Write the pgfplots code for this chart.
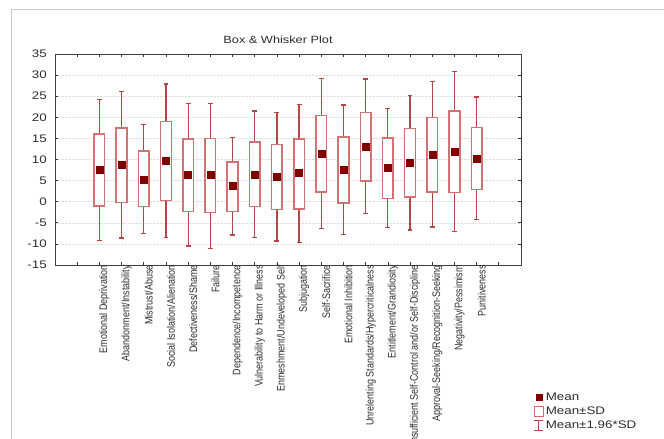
\documentclass[border=0pt]{standalone}
\usepackage{pgfplots}
\pgfplotsset{compat=1.18}
\usepgfplotslibrary{statistics}
\usepackage{fontspec}
\setmainfont{Liberation Sans}
\newfontfamily\widefont[FakeStretch=1.22]{Liberation Sans}
\newfontfamily\narrowfont[FakeStretch=0.82]{Liberation Sans}
\definecolor{boxcol}{RGB}{210,115,115}
\definecolor{whiskcol}{RGB}{180,70,70}
\definecolor{meancol}{RGB}{128,0,0}
\definecolor{framecol}{RGB}{195,195,228}
\definecolor{txtcol}{RGB}{45,45,45}
\newcommand{\bx}[5]{\addplot[whiskcol, line width=1.2bp, forget plot,
  boxplot prepared={draw direction=y, draw position=#1, lower whisker=#2, lower quartile=#3,
  median=#3, upper quartile=#4, upper whisker=#5, box extend=0.48, whisker extend=0.22}] coordinates {};}
\begin{document}
\begin{tikzpicture}
\useasboundingbox (0,0) rectangle (664bp,-439bp);
\draw[framecol, line width=0.8bp] (11bp,-439bp) -- (11bp,-9bp) -- (664bp,-9bp);
\node[font=\widefont\fontsize{10.5}{12}\selectfont, text=txtcol] at (278bp,-40bp) {Box \& Whisker Plot};
\begin{axis}[
  at={(55bp,-265bp)}, anchor=south west,
  scale only axis, width=466bp, height=211bp,
  xmin=-2, xmax=19, ymin=-15, ymax=35,
  ytick={-15,-10,...,35},
  xtick={-1,0,...,18},
  xticklabels={,Emotional Deprivation,Abandonment/Instability,Mistrust/Abuse,Social Isolation/Alienation,Defectiveness/Shame,Failure,Dependence/Incompetence,Vulnerability to Harm or Illness,Enmeshment/Undeveloped Self,Subjugation,Self-Sacrifice,Emotional Inhibition,Unrelenting Standards/Hypercriticalness,Entitlement/Grandiosity,Insufficient Self-Control and/or Self-Discipline,Approval-Seeking/Recognition-Seeking,Negativity/Pessimism,Punitiveness,},
  xticklabel style={rotate=90, anchor=east, font=\narrowfont\fontsize{11}{12}\selectfont, text=txtcol, inner sep=0pt, xshift=0bp, yshift=-5bp},
  yticklabel style={font=\widefont\fontsize{11}{12}\selectfont, text=txtcol, inner sep=0pt, xshift=-8bp},
  /pgf/number format/assume math mode=true,
  tick align=inside, xtick pos=both, ytick pos=both,
  major tick length=3bp,
  tick style={black!80, line width=0.7bp},
  axis line style={black!75, line width=0.9bp},
  ymajorgrids, major grid style={densely dotted, black!13, line width=0.6bp},
  boxplot/draw direction=y,
  boxplot/every box/.style={draw=boxcol, line width=1.5bp, fill=white},
  boxplot/every whisker/.style={draw=whiskcol, line width=1.2bp},
  boxplot/every median/.style={draw=none},
  clip=false,
  legend cell align=left,
  legend style={draw=none, fill=none, at={(1.027,-0.595)}, anchor=north west,
    font=\widefont\fontsize{11}{12}\selectfont, text=txtcol, inner sep=0pt, row sep=0.8bp},
]
\addlegendimage{only marks, mark=square*, mark size=3bp, color=meancol}
\addlegendimage{legend image code/.code={\draw[boxcol, line width=1bp, fill=white] (4bp,-5bp) rectangle (13bp,5bp);}}
\addlegendimage{legend image code/.code={\draw[whiskcol, line width=1bp] (4bp,-5bp)--(13bp,-5bp) (8.5bp,-5bp)--(8.5bp,5bp) (4bp,5bp)--(13bp,5bp);}}
\legend{Mean, Mean±SD, Mean±1.96*SD}
\bx{0}{-9.2}{-1.0}{16.0}{24.3}
\bx{1}{-8.6}{-0.2}{17.5}{26.1}
\bx{2}{-7.5}{-1.1}{12.0}{18.3}
\bx{3}{-8.5}{0.3}{19.0}{27.9}
\bx{4}{-10.5}{-2.3}{14.9}{23.2}
\bx{5}{-11.0}{-2.5}{15.0}{23.3}
\bx{6}{-7.9}{-2.3}{9.4}{15.2}
\bx{7}{-8.4}{-1.1}{14.1}{21.5}
\bx{8}{-9.3}{-1.9}{13.5}{21.1}
\bx{9}{-9.6}{-1.7}{14.9}{23.0}
\bx{10}{-6.4}{2.3}{20.4}{29.2}
\bx{11}{-7.8}{-0.3}{15.3}{22.9}
\bx{12}{-2.8}{4.9}{21.1}{29.1}
\bx{13}{-6.1}{0.8}{15.1}{22.0}
\bx{14}{-6.7}{1.1}{17.3}{25.2}
\bx{15}{-6.0}{2.3}{20.0}{28.5}
\bx{16}{-7.0}{2.2}{21.5}{30.8}
\bx{17}{-4.3}{2.9}{17.6}{24.8}
\addplot[only marks, mark=square*, mark size=3.5bp, color=meancol, forget plot] coordinates {
(0,7.6) (1,8.8) (2,5.3) (3,9.6) (4,6.3) (5,6.3) (6,3.7) (7,6.5) (8,5.9)
(9,6.8) (10,11.4) (11,7.6) (12,13.1) (13,8.0) (14,9.3) (15,11.2) (16,11.85) (17,10.2)};
\end{axis}
\end{tikzpicture}
\end{document}
